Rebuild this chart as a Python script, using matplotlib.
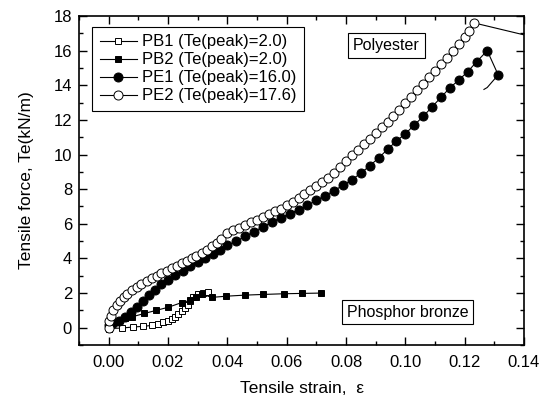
import numpy as np
import matplotlib
matplotlib.use("Agg")
import matplotlib.pyplot as plt
from matplotlib.ticker import MultipleLocator

plt.rcParams['font.family'] = ['Liberation Sans', 'DejaVu Sans']

# PB1 - phosphor bronze, open squares
pb1_x = [0.0000, 0.0044, 0.0083, 0.0117, 0.0145, 0.0167, 0.0184, 0.0201, 0.0212,
         0.0223, 0.0235, 0.0246, 0.0257, 0.0266, 0.0274, 0.0285, 0.0302, 0.0319, 0.0336]
pb1_y = [-0.05, -0.02, 0.04, 0.08, 0.13, 0.21, 0.31, 0.40, 0.50,
         0.64, 0.79, 0.98, 1.14, 1.33, 1.52, 1.75, 1.93, 2.02, 2.04]

# PB2 - phosphor bronze, filled squares
pb2_x = [0.0000, 0.0033, 0.0055, 0.0077, 0.0120, 0.0160, 0.0201, 0.0246, 0.0275,
         0.0295, 0.0313, 0.0347, 0.0397, 0.0458, 0.0520, 0.0590, 0.0650, 0.0717]
pb2_y = [0.20, 0.35, 0.55, 0.62, 0.82, 1.00, 1.18, 1.45, 1.58,
         1.78, 1.95, 1.75, 1.82, 1.88, 1.92, 1.96, 1.98, 2.00]

# PE1 - polyester, filled circles (last two points: unloading tail, no marker)
pe1_x = [0.0000, 0.0015, 0.0035, 0.0055, 0.0075, 0.0095, 0.0115, 0.0135, 0.0155,
         0.0178, 0.0200, 0.0225, 0.0250, 0.0275, 0.0300, 0.0325, 0.0350, 0.0375,
         0.0400, 0.0430, 0.0460, 0.0490, 0.0520, 0.0550, 0.0580, 0.0610, 0.0640,
         0.0670, 0.0700, 0.0730, 0.0760, 0.0790, 0.0820, 0.0850, 0.0880, 0.0910,
         0.0940, 0.0970, 0.1000, 0.1030, 0.1060, 0.1090, 0.1120, 0.1150, 0.1180,
         0.1210, 0.1240, 0.1276, 0.1313, 0.1276, 0.1265]
pe1_y = [0.15, 0.25, 0.40, 0.62, 0.90, 1.20, 1.55, 1.90, 2.20,
         2.50, 2.78, 3.05, 3.30, 3.55, 3.80, 4.03, 4.27, 4.50,
         4.75, 5.00, 5.27, 5.55, 5.82, 6.10, 6.35, 6.58, 6.82,
         7.08, 7.35, 7.62, 7.92, 8.22, 8.55, 8.92, 9.35, 9.80,
         10.30, 10.78, 11.20, 11.70, 12.20, 12.75, 13.30, 13.85, 14.30,
         14.78, 15.35, 16.00, 14.60, 13.87, 13.76]

# PE2 - polyester, open circles (last point: unloading line, no marker)
pe2_x = [0.0000, 0.0000, 0.0008, 0.0015, 0.0027, 0.0038, 0.0050, 0.0062, 0.0077,
         0.0094, 0.0110, 0.0128, 0.0145, 0.0162, 0.0178, 0.0195, 0.0212, 0.0229,
         0.0246, 0.0263, 0.0280, 0.0296, 0.0313, 0.0330, 0.0347, 0.0364, 0.0380,
         0.0400, 0.0420, 0.0440, 0.0460, 0.0480, 0.0500, 0.0520, 0.0540, 0.0560,
         0.0580, 0.0600, 0.0620, 0.0640, 0.0660, 0.0680, 0.0700, 0.0720, 0.0740,
         0.0760, 0.0780, 0.0800, 0.0820, 0.0840, 0.0860, 0.0880, 0.0900, 0.0920,
         0.0940, 0.0960, 0.0980, 0.1000, 0.1020, 0.1040, 0.1060, 0.1080, 0.1100,
         0.1120, 0.1140, 0.1160, 0.1180, 0.1200, 0.1215, 0.1232, 0.1500]
pe2_y = [0.00, 0.40, 0.70, 1.00, 1.30, 1.55, 1.75, 1.95, 2.15,
         2.35, 2.52, 2.70, 2.85, 3.00, 3.13, 3.28, 3.42, 3.57,
         3.71, 3.86, 4.00, 4.15, 4.32, 4.50, 4.70, 4.90, 5.10,
         5.44, 5.62, 5.78, 5.93, 6.08, 6.22, 6.38, 6.54, 6.72,
         6.88, 7.06, 7.26, 7.48, 7.70, 7.94, 8.18, 8.42, 8.66,
         8.92, 9.28, 9.62, 9.95, 10.28, 10.60, 10.92, 11.25, 11.58,
         11.90, 12.25, 12.60, 12.96, 13.33, 13.70, 14.08, 14.46, 14.84,
         15.22, 15.60, 15.98, 16.38, 16.80, 17.15, 17.60, 16.50]

labels = ['PB1 (Te(peak)=2.0)', 'PB2 (Te(peak)=2.0)',
          'PE1 (Te(peak)=16.0)', 'PE2 (Te(peak)=17.6)']

fig = plt.figure(figsize=(5.46, 4.04), dpi=100)
ax = fig.add_axes([0.1447, 0.146, 0.815, 0.8144])

lw = 0.8
ax.plot(pb1_x, pb1_y, '-', color='k', lw=lw, marker='s', ms=5, mfc='white',
        mec='k', mew=0.7, label=labels[0])
ax.plot(pb2_x, pb2_y, '-', color='k', lw=lw, marker='s', ms=5, mfc='k',
        mec='k', mew=0.7, label=labels[1])
ax.plot(pe1_x, pe1_y, '-', color='k', lw=lw, marker='o', ms=6.5, mfc='k',
        mec='k', mew=0.7, markevery=list(range(len(pe1_x) - 2)), label=labels[2])
ax.plot(pe2_x, pe2_y, '-', color='k', lw=lw, marker='o', ms=6.5, mfc='white',
        mec='k', mew=0.7, markevery=list(range(len(pe2_x) - 1)), label=labels[3])

ax.set_xlim(-0.01, 0.14)
ax.set_ylim(-1, 18)
ax.xaxis.set_major_locator(MultipleLocator(0.02))
ax.xaxis.set_minor_locator(MultipleLocator(0.01))
ax.yaxis.set_major_locator(MultipleLocator(2))
ax.yaxis.set_minor_locator(MultipleLocator(1))
ax.xaxis.set_major_formatter(plt.FormatStrFormatter('%.2f'))
ax.tick_params(which='both', direction='in', top=True, right=True,
               labeltop=False, labelright=False, labelsize=12, width=1)
ax.tick_params(which='major', length=6)
ax.tick_params(which='minor', length=3)
ax.tick_params(axis='x', pad=7)
ax.tick_params(axis='y', pad=5)
for s in ax.spines.values():
    s.set_linewidth(1.2)

ax.set_xlabel('Tensile strain,  ε', fontsize=12.5, labelpad=8)
ax.set_ylabel('Tensile force, Te(kN/m)', fontsize=12.5, labelpad=14)

leg = ax.legend(loc='upper left', bbox_to_anchor=(0.03, 0.967), fontsize=12,
                frameon=True, fancybox=False, edgecolor='k', framealpha=1,
                handlelength=2.2, handletextpad=0.3, labelspacing=0.18,
                borderpad=0.45, borderaxespad=0)
leg.get_frame().set_linewidth(0.8)

box = dict(boxstyle='square,pad=0.3', fc='white', ec='k', lw=0.8)
ax.text(0.0936, 16.3, 'Polyester', ha='center', va='center', fontsize=11.5, bbox=box)
ax.text(0.1008, 0.9, 'Phosphor bronze', ha='center', va='center', fontsize=11.5, bbox=box)

fig.savefig('out.png', dpi=100)
